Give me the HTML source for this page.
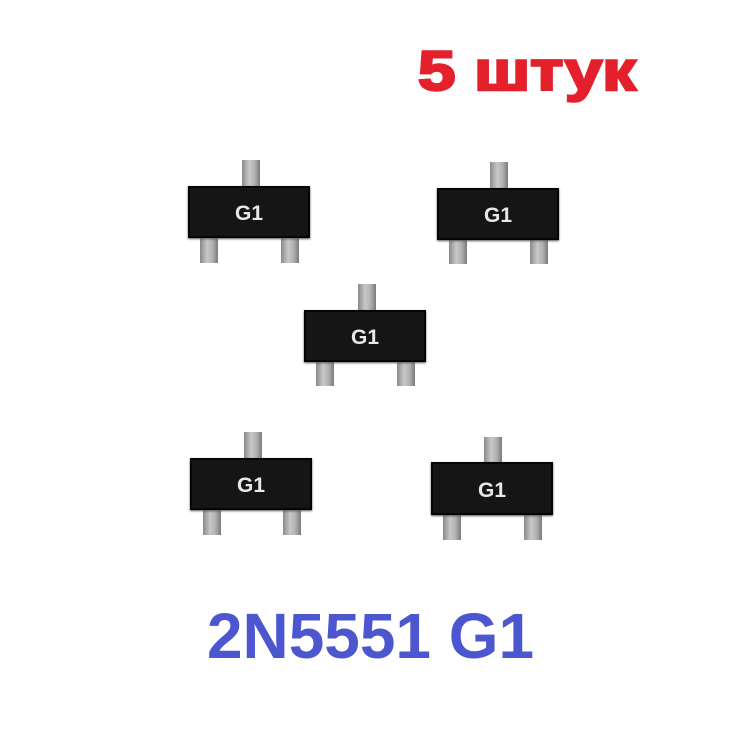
<!DOCTYPE html>
<html><head><style>
html,body{margin:0;padding:0;background:#fff;}
body{width:745px;height:746px;position:relative;overflow:hidden;font-family:"Liberation Sans",Arial,sans-serif;}
.pin{position:absolute;width:18px;background:linear-gradient(90deg,#8a8a8a,#c8c8c8 40%,#b0b0b0 70%,#7a7a7a);}
.body{position:absolute;width:122px;height:52px;background:#151515;box-shadow:inset 0 0 0 2px #050505,0 1px 2px #555;color:#e8e8e8;font-weight:bold;font-size:21px;text-align:center;line-height:56px;}
</style></head><body>
<svg width="745" height="746" style="position:absolute;left:0;top:0">
<text x="418" y="90" font-family="Liberation Sans" font-weight="bold" font-size="56" fill="#e3202b" stroke="#e3202b" stroke-width="2.5" textLength="218" lengthAdjust="spacingAndGlyphs">5 штук</text>
<text x="207" y="658" font-family="Liberation Sans" font-weight="bold" font-size="64" fill="#4c56cf" textLength="327" lengthAdjust="spacingAndGlyphs">2N5551 G1</text>
</svg>

<!-- P1 -->
<div class="pin" style="left:242px;top:160px;height:28px"></div>
<div class="pin" style="left:200px;top:236px;height:27px"></div>
<div class="pin" style="left:281px;top:236px;height:27px"></div>
<div class="body" style="left:188px;top:186px">G1</div>
<!-- P2 -->
<div class="pin" style="left:490px;top:162px;height:28px"></div>
<div class="pin" style="left:449px;top:237px;height:27px"></div>
<div class="pin" style="left:530px;top:237px;height:27px"></div>
<div class="body" style="left:437px;top:188px">G1</div>
<!-- P3 -->
<div class="pin" style="left:358px;top:284px;height:28px"></div>
<div class="pin" style="left:316px;top:360px;height:26px"></div>
<div class="pin" style="left:397px;top:360px;height:26px"></div>
<div class="body" style="left:304px;top:310px">G1</div>
<!-- P4 -->
<div class="pin" style="left:244px;top:432px;height:28px"></div>
<div class="pin" style="left:203px;top:508px;height:27px"></div>
<div class="pin" style="left:283px;top:508px;height:27px"></div>
<div class="body" style="left:190px;top:458px">G1</div>
<!-- P5 -->
<div class="pin" style="left:484px;top:437px;height:28px"></div>
<div class="pin" style="left:443px;top:512px;height:28px"></div>
<div class="pin" style="left:524px;top:512px;height:28px"></div>
<div class="body" style="left:431px;top:462px;height:53px;line-height:57px">G1</div>
</body></html>
